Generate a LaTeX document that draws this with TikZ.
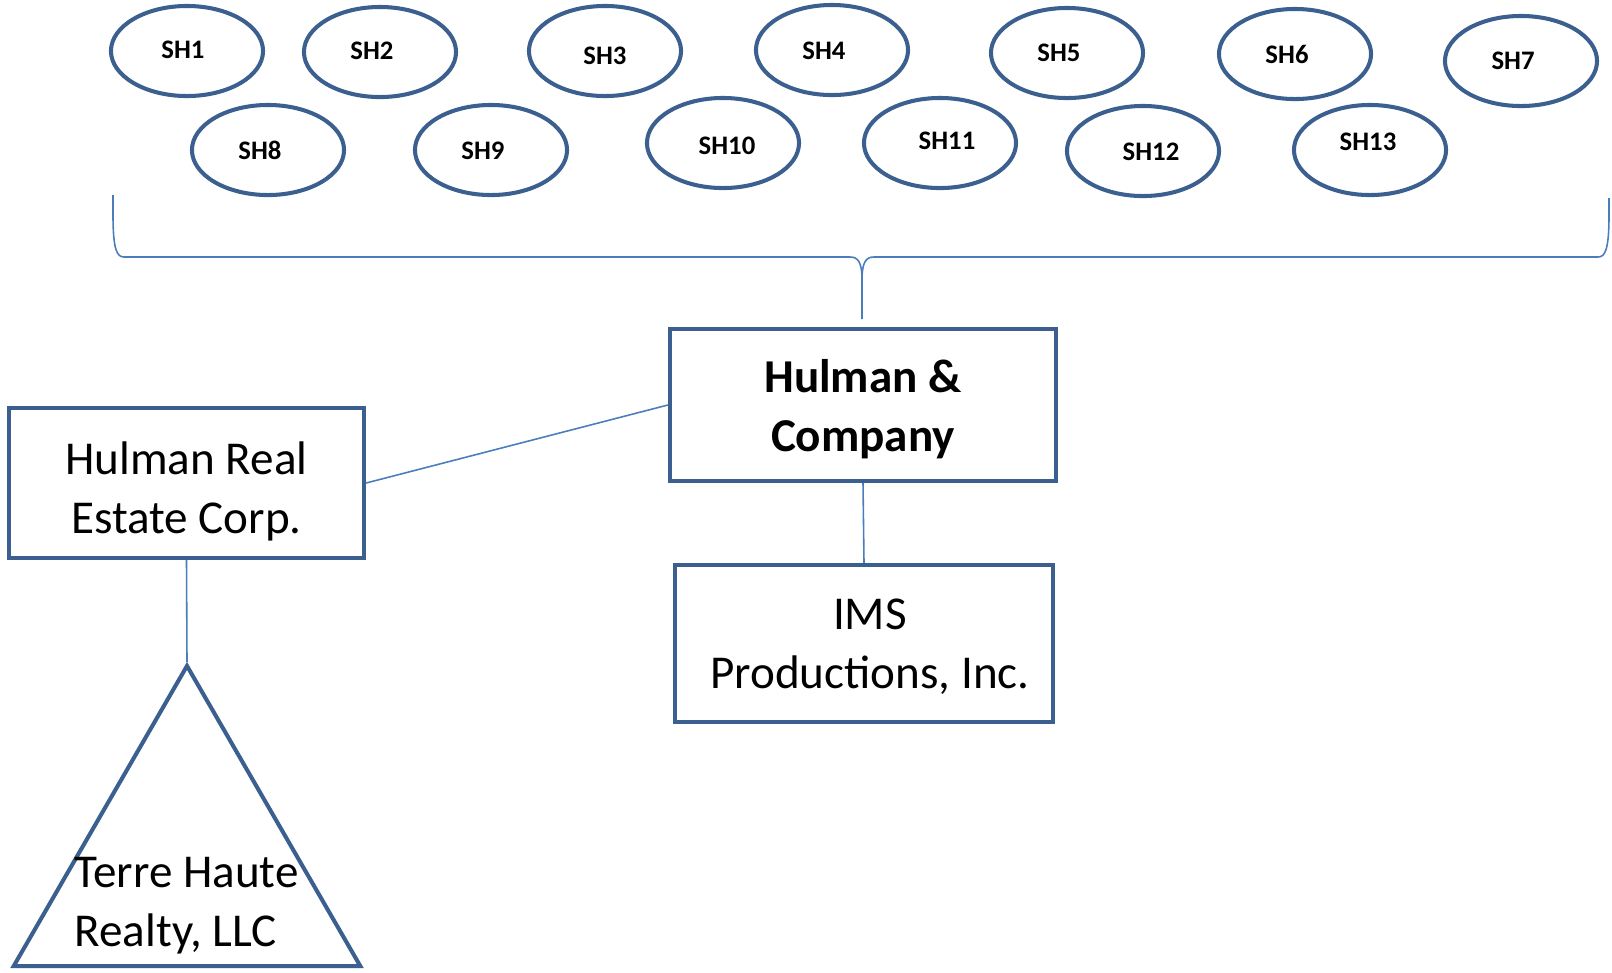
\documentclass[tikz,border=0pt]{standalone}
\usepackage{fontspec}
\setmainfont{Carlito}
\usetikzlibrary{shapes.geometric}
\definecolor{edgeblue}{HTML}{3B5F8E}
\definecolor{linkblue}{HTML}{4A7EBB}
\begin{document}
\begin{tikzpicture}[x=0.01cm, y=-0.01cm,
    sh/.style={ellipse, draw=edgeblue, line width=1.15pt, inner sep=0pt,
        minimum width=1.52cm, minimum height=0.90cm},
    shtext/.style={inner sep=0pt, font=\fontsize{7.6}{9}\selectfont\bfseries},
    firm/.style={rectangle, draw=edgeblue, line width=1.15pt, inner sep=0pt},
    firmtext/.style={align=center, inner sep=0pt, font=\fontsize{13.4}{16.8}\selectfont},
    link/.style={draw=linkblue, line width=0.45pt}]
    \useasboundingbox (0,0) rectangle (1612,972);

    % Cac co dong (tam, do lech chu)
    \foreach \n/\x/\y/\dx/\dy in {1/187/51/-4/-1, 2/380/52/-8/-1, 3/605/51/0/5,
        4/832/50/-8/1, 5/1067/53/-8/0, 6/1295/54/-8/0, 7/1521/61/-8/0,
        8/268/150/-8/0, 9/491/150/-8/1, 10/723/143/4/3, 11/940/143/7/-2,
        12/1143/151/8/1, 13/1370/150/-2/-8}
    {
        \node[sh] (sh\n) at (\x,\y) {};
        \node[shtext] (lbl\n) at ([xshift=\dx*0.01cm, yshift=-\dy*0.01cm]sh\n.center) {SH\n};
    }

    % Dau ngoac gom cac co dong
    \coordinate (braceL) at (113,195);
    \coordinate (braceR) at (1609,198);
    \coordinate (braceTip) at (862,319);
    \draw[link] (braceL) -- (113,215) .. controls (113,250) and (117,257) .. (124,257)
        -- (850,257) .. controls (858,257) and (862,262) .. (862,280) -- (braceTip);
    \draw[link] (braceR) -- (1609,215) .. controls (1609,250) and (1605,257) .. (1598,257)
        -- (874,257) .. controls (866,257) and (862,262) .. (862,280);

    % Cac cong ty
    \node[firm, minimum width=3.86cm, minimum height=1.52cm] (hc) at (863,405) {};
    \node[firmtext, font=\fontsize{13.4}{16.8}\selectfont\bfseries] (hctext)
        at ([yshift=-0.04cm]hc.center) {Hulman \&\\Company};
    \node[firm, minimum width=3.55cm, minimum height=1.50cm] (hre) at (186.5,483) {};
    \node[firmtext] (hretext) at ([yshift=-0.08cm]hre.center) {Hulman Real\\Estate Corp.};
    \node[firm, minimum width=3.78cm, minimum height=1.57cm] (ims) at (864,643.5) {};
    \node[firmtext] (imstext) at ([xshift=0.06cm, yshift=-0.035cm]ims.center) {IMS\\Productions, Inc.};
    \node[regular polygon, regular polygon sides=3, draw=edgeblue, line width=1.15pt,
        inner sep=0pt, minimum size=4.0cm] (thr) at (187,866) {};
    \node[firmtext, align=left, anchor=west] (thrtext) at (74,906) {Terre Haute\\Realty, LLC};

    % Duong noi
    \draw[link] (hre.east) -- (hc.west);
    \draw[link] (hc.south) -- (ims.north);
    \draw[link] (hre.south) -- (thr.north);
\end{tikzpicture}
\end{document}
